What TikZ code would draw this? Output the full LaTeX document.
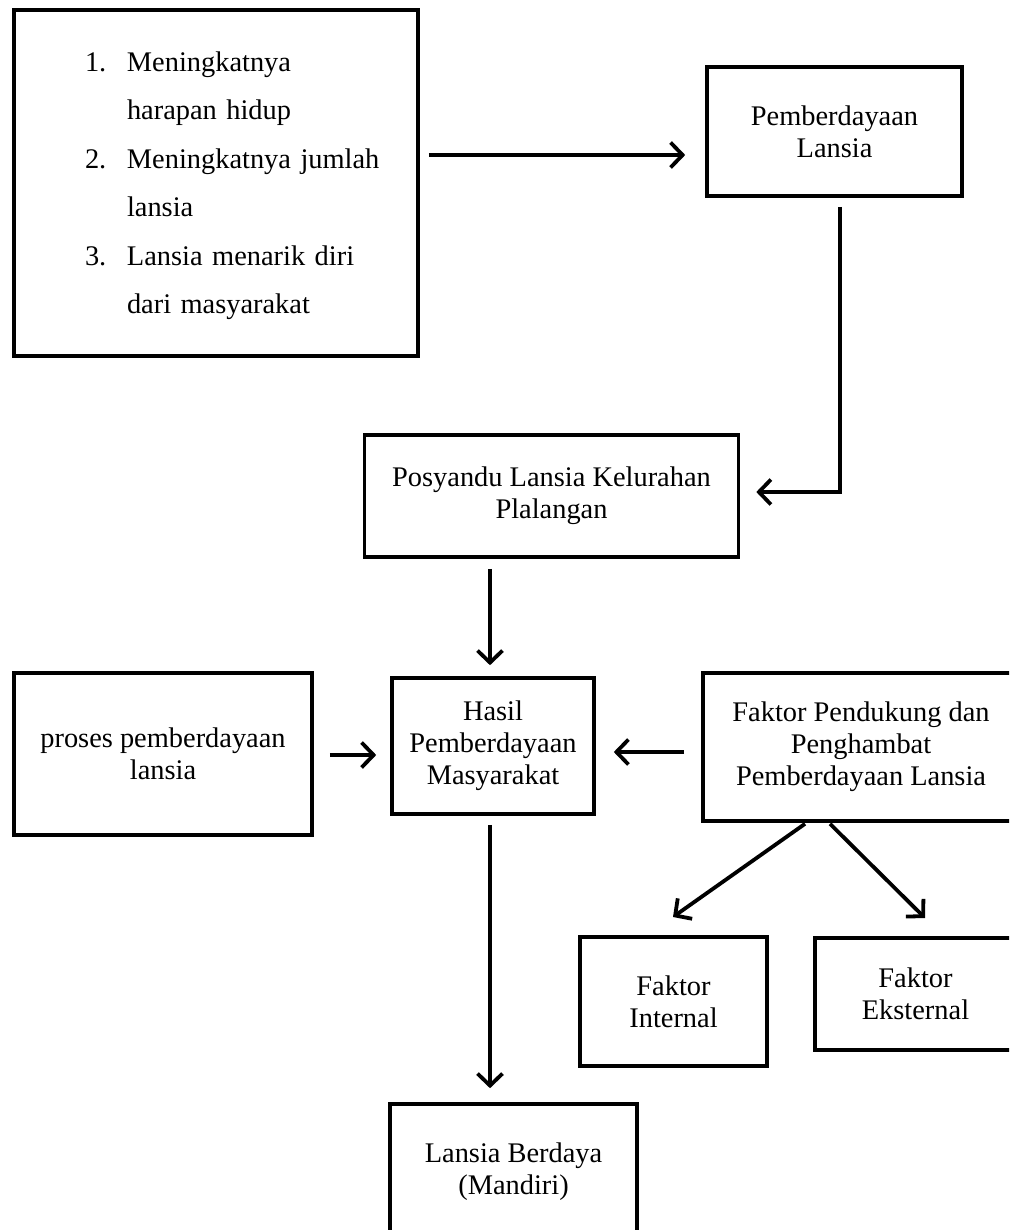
\documentclass[tikz,border=0pt]{standalone}
\usepackage{fontspec}
\setmainfont{Liberation Serif}
\usetikzlibrary{arrows.meta,calc}
\begin{document}
\begin{tikzpicture}[x=1pt,y=-1pt,
  box/.style={draw=black,line width=3.6pt,inner sep=0pt,align=center,
    font=\fontsize{28.4}{32}\selectfont},
  conn/.style={line width=3.8pt,-{Straight Barb[length=12pt,width=25pt,line width=3.8pt]}}]
\useasboundingbox (0,0) rectangle (1009,1230);
\fill[white] (0,0) rectangle (1009,1230);
\clip (0,0) rectangle (1009,1230);
\node[box,text width=404pt,minimum height=346pt,align=left] (list) at (216,183)
  {\def\arraystretch{1.516}\begin{tabular}{@{\hspace*{71pt}}p{42pt}@{}l@{}}
   1. & Meningkatnya\\
      & harapan hidup\\
   2. & Meningkatnya jumlah\\
      & lansia\\
   3. & Lansia menarik diri\\
      & dari masyarakat
   \end{tabular}};
\node[box,minimum width=255pt,minimum height=129pt] (pemb) at (834.5,131.5) {Pemberdayaan\\Lansia};
\node[box,minimum width=374pt,minimum height=122pt] (posy) at (551.5,496) {Posyandu Lansia Kelurahan\\Plalangan};
\node[box,minimum width=298pt,minimum height=162pt] (proses) at (163,754) {proses pemberdayaan\\lansia};
\node[box,minimum width=202pt,minimum height=136pt] (hasil) at (493,746) {Hasil\\Pemberdayaan\\Masyarakat};
\node[box,minimum width=316pt,minimum height=148pt] (faktor) at (861,747) {Faktor Pendukung dan\\Penghambat\\Pemberdayaan Lansia};
\node[box,minimum width=187pt,minimum height=129pt] (intern) at (673.5,1001.5) {Faktor\\Internal};
\node[box,minimum width=201pt,minimum height=112pt] (ekstern) at (915.5,994) {Faktor\\Eksternal};
\node[box,minimum width=247pt,minimum height=136pt] (mandiri) at (513.5,1172) {Lansia Berdaya\\(Mandiri)};
\coordinate (c1) at (840,492);
\draw[conn] ($(list.east |- 0,155)+(9,0)$) -- ($(pemb.west |- 0,155)+(-20,0)$);
\draw[conn] ($(pemb.south -| c1)+(0,9)$) -- (c1) -- ($(posy.east |- c1)+(16,0)$);
\draw[conn] ($(posy.south -| 490,0)+(0,10)$) -- ($(hasil.north -| 490,0)+(0,-11)$);
\draw[conn] ($(proses.east |- 0,755)+(16,0)$) -- ($(hasil.west |- 0,755)+(-14,0)$);
\draw[conn] ($(faktor.west |- 0,752)+(-17,0)$) -- ($(hasil.east |- 0,752)+(18,0)$);
\draw[conn] ($(hasil.south -| 490,0)+(0,9)$) -- ($(mandiri.north -| 490,0)+(0,-14)$);
\draw[conn] ($(faktor.south -| 805,0)+(0,1)$) -- (673,917);
\draw[conn] ($(faktor.south -| 830,0)+(0,1)$) -- (925,918);
\end{tikzpicture}
\end{document}
